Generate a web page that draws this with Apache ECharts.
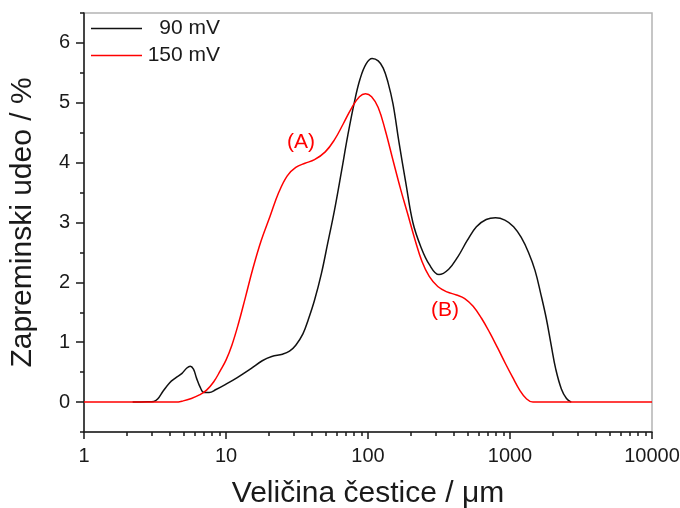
<!DOCTYPE html>
<html>
<head>
<meta charset="utf-8">
<script src="https://cdn.jsdelivr.net/npm/echarts@6/dist/echarts.min.js"></script>
<style>
  html, body { margin: 0; padding: 0; background: #fff; }
  #chart { width: 680px; height: 508px; }
</style>
</head>
<body>
<div id="chart"></div>
<script>
// velicina cestice (um) / zapreminski udeo (%)
var size90 = [2.2, 2.8, 3.1, 3.3, 3.6, 4.0, 4.4, 4.9, 5.3, 5.6, 5.9, 6.2, 6.6, 7.0, 7.6, 8.5, 10, 12, 15, 18, 21, 25, 28, 31, 34.8, 38, 42, 47, 52, 58, 65, 72, 80, 88, 97, 107, 118, 128, 138, 150, 165, 185, 207, 235, 270, 316, 370, 430, 500, 580, 680, 790, 920, 1060, 1200, 1350, 1500, 1650, 1800, 1950, 2100, 2300, 2500, 2700];
var val90 = [0, 0.005, 0.01, 0.05, 0.18, 0.32, 0.4, 0.48, 0.57, 0.6, 0.55, 0.4, 0.24, 0.16, 0.16, 0.21, 0.3, 0.41, 0.56, 0.69, 0.76, 0.8, 0.85, 0.95, 1.14, 1.38, 1.7, 2.15, 2.65, 3.2, 3.85, 4.45, 5.0, 5.4, 5.65, 5.74, 5.7, 5.58, 5.35, 4.98, 4.35, 3.65, 3.0, 2.6, 2.3, 2.13, 2.22, 2.43, 2.7, 2.93, 3.05, 3.08, 3.04, 2.93, 2.75, 2.5, 2.2, 1.8, 1.4, 0.95, 0.55, 0.22, 0.06, 0];

var size150 = [1, 4.4, 5.0, 5.7, 6.5, 7.3, 8.2, 9.1, 10, 11, 12.2, 13.7, 15.5, 17.7, 20.4, 23.5, 27, 31, 36, 42, 50, 58, 67, 77, 87, 96, 106, 118, 132, 150, 170, 190, 215, 240, 270, 310, 360, 420, 480, 550, 630, 720, 820, 930, 1040, 1170, 1300, 1450, 10000];
var val150 = [0, 0, 0.02, 0.06, 0.12, 0.2, 0.34, 0.52, 0.7, 0.95, 1.3, 1.75, 2.24, 2.7, 3.1, 3.5, 3.78, 3.92, 3.99, 4.05, 4.18, 4.38, 4.65, 4.92, 5.1, 5.15, 5.1, 4.92, 4.55, 4.04, 3.55, 3.15, 2.7, 2.35, 2.1, 1.93, 1.84, 1.79, 1.73, 1.6, 1.4, 1.16, 0.9, 0.64, 0.42, 0.2, 0.06, 0, 0];

var xMajor = [1, 10, 100, 1000, 10000];
var xMinor = [2, 3, 4, 5, 6, 7, 8, 9, 20, 30, 40, 50, 60, 70, 80, 90, 200, 300, 400, 500, 600, 700, 800, 900, 2000, 3000, 4000, 5000, 6000, 7000, 8000, 9000];
var yMajor = [0, 1, 2, 3, 4, 5, 6];
var yMinor = [-0.5, 0.5, 1.5, 2.5, 3.5, 4.5, 5.5, 6.5];

var names = ['90 mV', '150 mV'];

function pairs(xs, ys) {
  var out = [];
  for (var i = 0; i < xs.length; i++) {
    out.push([xs[i], ys[i]]);
  }
  return out;
}

var chart = echarts.init(document.getElementById('chart'));
var fontFam = '"Liberation Sans", Arial, sans-serif';
var ink = '#1a1a1a';

var option = {
  backgroundColor: '#FFFFFF',
  animation: false,
  textStyle: { fontFamily: fontFam },
  grid: {
    left: 84, right: 28, top: 13, bottom: 76,
    outerBoundsMode: 'none',
    containLabel: false,
    show: true,
    borderColor: '#b4b4b4',
    borderWidth: 1.5
  },
  legend: {
    orient: 'vertical',
    left: 86,
    top: 13,
    icon: 'rect',
    itemWidth: 51,
    itemHeight: 1.5,
    itemGap: 6,
    formatter: function (name) {
      return '{r|' + name + '}';
    },
    textStyle: {
      color: ink,
      fontSize: 21,
      rich: {
        r: { width: 73, align: 'right', fontSize: 21, lineHeight: 22 }
      }
    },
    data: names
  },
  xAxis: [
    {
      type: 'log',
      logBase: 10,
      min: 1,
      max: 10000,
      name: 'Veličina čestice / μm',
      nameLocation: 'middle',
      nameGap: 47,
      nameTextStyle: { fontSize: 30, color: ink },
      axisLine: { onZero: false, lineStyle: { color: ink, width: 1.5 } },
      axisTick: { customValues: xMajor, length: 7, lineStyle: { color: ink, width: 1.5 } },
      axisLabel: {
        customValues: xMajor, fontSize: 20, color: ink, margin: 14,
        formatter: function (v) { return String(v); }
      },
      splitLine: { show: false }
    },
    {
      type: 'log',
      logBase: 10,
      min: 1,
      max: 10000,
      position: 'bottom',
      axisLine: { show: false, onZero: false },
      axisTick: { customValues: xMinor, length: 4, lineStyle: { color: ink, width: 1.5 } },
      axisLabel: { show: false },
      splitLine: { show: false }
    }
  ],
  yAxis: [
    {
      type: 'value',
      min: -0.5,
      max: 6.5,
      name: 'Zapreminski udeo / %',
      nameLocation: 'middle',
      nameGap: 46,
      nameTextStyle: { fontSize: 30, color: ink },
      axisLine: { onZero: false, lineStyle: { color: ink, width: 1.5 } },
      axisTick: { customValues: yMajor, length: 8, lineStyle: { color: ink, width: 1.5 } },
      axisLabel: { customValues: yMajor, fontSize: 20, color: ink, margin: 14 },
      splitLine: { show: false }
    },
    {
      type: 'value',
      min: -0.5,
      max: 6.5,
      position: 'left',
      axisLine: { show: false, onZero: false },
      axisTick: { customValues: yMinor, length: 4, lineStyle: { color: ink, width: 1.5 } },
      axisLabel: { show: false },
      splitLine: { show: false }
    }
  ],
  graphic: [
    {
      type: 'text', left: 287, top: 132,
      style: { text: '(A)', fill: '#ff0000', fontSize: 21, fontFamily: fontFam }
    },
    {
      type: 'text', left: 431, top: 300,
      style: { text: '(B)', fill: '#ff0000', fontSize: 21, fontFamily: fontFam }
    }
  ],
  series: [
    {
      name: names[0],
      type: 'line',
      smooth: 0.4,
      symbol: 'none',
      lineStyle: { color: '#111111', width: 1.5 },
      itemStyle: { color: '#111111' },
      data: pairs(size90, val90)
    },
    {
      name: names[1],
      type: 'line',
      smooth: 0.4,
      symbol: 'none',
      lineStyle: { color: '#ff0000', width: 1.5 },
      itemStyle: { color: '#ff0000' },
      data: pairs(size150, val150)
    }
  ]
};
chart.setOption(option);
</script>
</body>
</html>
